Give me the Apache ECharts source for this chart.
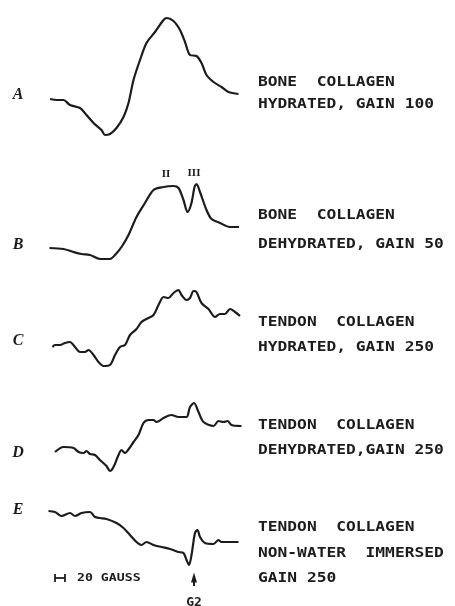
<!DOCTYPE html>
<html>
<head>
<meta charset="utf-8">
<script src="https://cdn.jsdelivr.net/npm/echarts@6/dist/echarts.min.js"></script>
<style>
  html, body { margin: 0; padding: 0; background: #fff; }
  #chart { width: 455px; height: 606px; }
</style>
</head>
<body>
<div id="chart"></div>
<script>
// field offset in gauss, amplitude in arbitrary units
const fieldA = [4, 18, 31, 44, 64, 77, 91, 107, 114, 124, 137, 151, 161, 171, 184, 197, 214, 231, 237, 251, 264, 274, 284, 297, 307, 317, 331, 347, 361, 381]
const ampA = [41, 40, 40, 35, 32, 25, 17, 10, 5, 6, 12, 23, 37, 60, 80, 97, 108, 120, 122, 119, 110, 98, 85, 84, 77, 65, 58, 53, 48, 46]

const fieldB = [3, 31, 51, 67, 84, 104, 124, 134, 147, 161, 177, 194, 211, 231, 251, 261, 271, 279, 287, 293, 297, 304, 317, 327, 344, 364, 382]
const ampB = [17, 16, 13, 11, 10, 6, 6, 10, 18, 30, 48, 62, 75, 78, 79, 77, 65, 53, 62, 78, 81, 73, 55, 46, 42, 38, 38]

const fieldC = [9, 14, 24, 34, 44, 54, 64, 74, 81, 91, 101, 111, 124, 134, 144, 154, 164, 177, 187, 197, 211, 221, 231, 241, 251, 261, 267, 277, 284, 291, 297, 307, 321, 334, 344, 354, 364, 374, 384]
const ampC = [25, 27, 27, 29, 30, 25, 20, 20, 22, 17, 10, 6, 7, 17, 25, 27, 37, 43, 50, 53, 57, 67, 75, 74, 79, 82, 77, 72, 74, 81, 80, 69, 63, 55, 58, 58, 63, 60, 56]

const fieldD = [14, 31, 51, 61, 71, 77, 84, 94, 104, 117, 124, 131, 141, 147, 154, 163, 171, 181, 191, 201, 211, 217, 231, 247, 261, 277, 284, 292, 301, 311, 331, 341, 351, 359, 367, 387]
const ampD = [23, 28, 27, 23, 22, 24, 21, 20, 15, 9, 4, 8, 20, 25, 22, 27, 33, 40, 52, 55, 55, 53, 57, 60, 58, 58, 68, 72, 63, 53, 49, 54, 53, 54, 50, 49]

const fieldE = [1, 14, 27, 44, 54, 67, 84, 94, 104, 117, 137, 151, 164, 177, 187, 197, 211, 227, 244, 261, 271, 277, 282, 287, 294, 299, 304, 314, 331, 341, 347, 361, 381]
const ampE = [59, 58, 54, 57, 54, 57, 58, 53, 52, 51, 47, 42, 35, 28, 25, 28, 25, 23, 21, 18, 17, 10, 5, 15, 37, 40, 33, 27, 26, 30, 28, 28, 28]

const traceLetters = ['A', 'B', 'C', 'D', 'E']
const captionLines = [
  ['BONE  COLLAGEN', 'HYDRATED, GAIN 100'],
  ['BONE  COLLAGEN', 'DEHYDRATED, GAIN 50'],
  ['TENDON  COLLAGEN', 'HYDRATED, GAIN 250'],
  ['TENDON  COLLAGEN', 'DEHYDRATED,GAIN 250'],
  ['TENDON  COLLAGEN', 'NON-WATER  IMMERSED', 'GAIN 250']
]
const scaleBarField = [14, 34] // 20 gauss
const g2Field = 292

const zip = (xs, ys) => xs.map((x, i) => [x, ys[i]])

// grid boxes (px) and amplitude range for each trace
const panels = [
  { top: 10, height: 130, min: 0, max: 130 },
  { top: 170, height: 95, min: 0, max: 95 },
  { top: 280, height: 92, min: 0, max: 92 },
  { top: 395, height: 80, min: 0, max: 80 },
  { top: 500, height: 106, min: -36, max: 70 }
]
const letterY = [95, 245, 341, 453, 510]
const captionY = [[82, 104], [215, 244], [322, 347], [425, 450], [527, 553, 578]]

const myChart = echarts.init(document.getElementById('chart'))
const ink = '#1c1c1c'

const lineSeries = (idx, data) => ({
  type: 'line',
  xAxisIndex: idx,
  yAxisIndex: idx,
  data: data,
  smooth: 0.3,
  symbol: 'none',
  silent: true,
  lineStyle: { color: ink, width: 2.2 }
})

const series = [
  lineSeries(0, zip(fieldA, ampA)),
  Object.assign(lineSeries(1, zip(fieldB, ampB)), {
    markPoint: {
      symbol: 'circle',
      symbolSize: 0,
      label: {
        show: true,
        color: ink,
        fontFamily: 'Liberation Serif',
        fontWeight: 'bold',
        fontSize: 11,
        formatter: p => p.name
      },
      data: [
        { name: 'II', coord: [236, 91] },
        { name: 'III', coord: [292, 92] }
      ]
    }
  }),
  lineSeries(2, zip(fieldC, ampC)),
  lineSeries(3, zip(fieldD, ampD)),
  lineSeries(4, zip(fieldE, ampE)),
  {
    // scale bar
    type: 'line',
    xAxisIndex: 4,
    yAxisIndex: 4,
    data: scaleBarField.map(x => [x, -8]),
    symbol: 'rect',
    symbolSize: [1.8, 8],
    itemStyle: { color: ink },
    lineStyle: { color: ink, width: 1.8 },
    silent: true
  },
  {
    // G2 arrow
    type: 'line',
    xAxisIndex: 4,
    yAxisIndex: 4,
    data: [
      { value: [g2Field, -16], symbol: 'none' },
      { value: [g2Field, -7.5], symbol: 'triangle', symbolSize: [6, 10] }
    ],
    itemStyle: { color: ink },
    lineStyle: { color: ink, width: 2 },
    clip: false,
    silent: true,
    markPoint: {
      symbol: 'circle',
      symbolSize: 0,
      label: {
        show: true,
        formatter: 'G2',
        color: ink,
        fontFamily: 'DejaVu Sans Mono',
        fontWeight: 'bold',
        fontSize: 13
      },
      data: [{ coord: [g2Field, -33] }]
    }
  }
]

const graphic = []
traceLetters.forEach((t, i) => {
  graphic.push({
    type: 'text',
    x: 18,
    y: letterY[i],
    style: {
      text: t,
      fill: ink,
      fontFamily: 'Liberation Serif',
      fontStyle: 'italic',
      fontWeight: 'bold',
      fontSize: 16,
      align: 'center',
      verticalAlign: 'middle'
    }
  })
})
captionLines.forEach((lines, i) => {
  lines.forEach((line, j) => {
    graphic.push({
      type: 'text',
      x: 258,
      y: captionY[i][j],
      scaleX: 1.16,
      style: {
        text: line,
        fill: ink,
        fontFamily: 'DejaVu Sans Mono',
        fontWeight: 'bold',
        fontSize: 14,
        verticalAlign: 'middle'
      }
    })
  })
})
graphic.push({
  type: 'text',
  x: 77,
  y: 578,
  scaleX: 1.2,
  style: {
    text: '20 GAUSS',
    fill: ink,
    fontFamily: 'DejaVu Sans Mono',
    fontWeight: 'bold',
    fontSize: 11,
    verticalAlign: 'middle'
  }
})

const options = {
  animation: false,
  backgroundColor: '#fff',
  grid: panels.map(p => ({ left: 48, width: 194, top: p.top, height: p.height })),
  xAxis: panels.map((p, i) => ({
    type: 'value',
    gridIndex: i,
    min: 0,
    max: 388,
    show: false
  })),
  yAxis: panels.map((p, i) => ({
    type: 'value',
    gridIndex: i,
    min: p.min,
    max: p.max,
    show: false
  })),
  series: series,
  graphic: graphic
}
myChart.setOption(options)
</script>
</body>
</html>
